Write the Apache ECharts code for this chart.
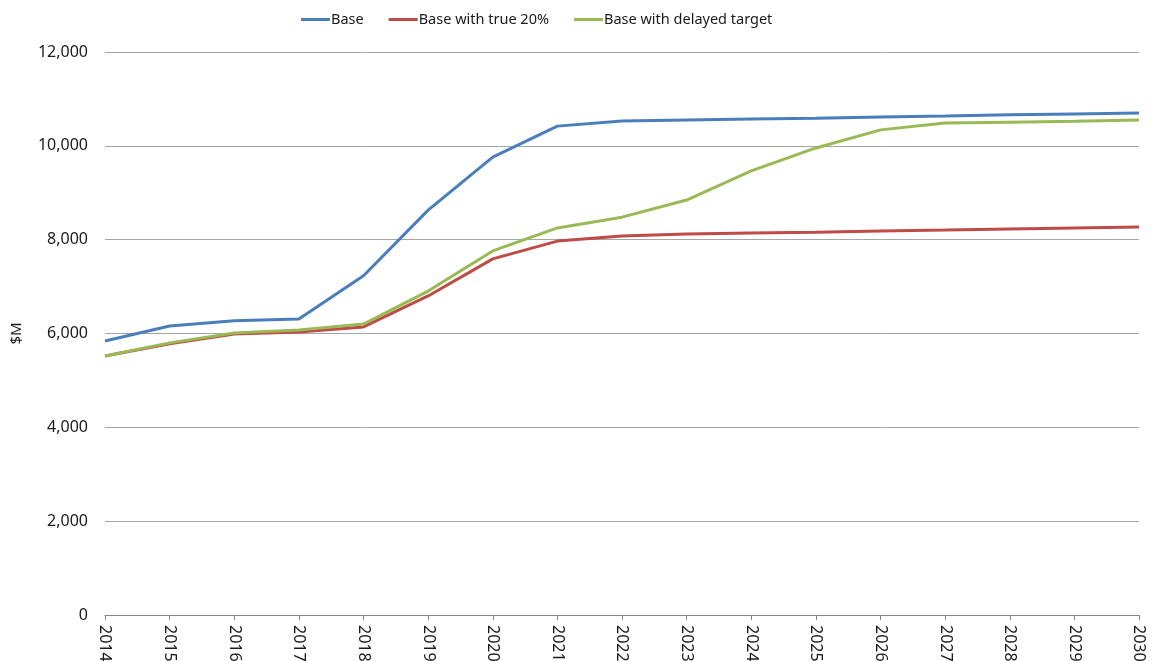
<!DOCTYPE html>
<html>
<head>
<meta charset="utf-8">
<script src="https://cdn.jsdelivr.net/npm/echarts@6/dist/echarts.min.js"></script>
<style>
  html, body { margin: 0; padding: 0; background: #fff; }
  #chart { width: 1165px; height: 661px; }
</style>
</head>
<body>
<div id="chart"></div>
<script>
// Years on the category axis
const years = ['2014','2015','2016','2017','2018','2019','2020','2021','2022','2023','2024','2025','2026','2027','2028','2029','2030'];

// Spending scenarios, $M
const base = [5840, 6160, 6270, 6310, 7230, 8630, 9760, 10420, 10530, 10550, 10570, 10590, 10615, 10635, 10660, 10680, 10700];
const baseTrue20 = [5520, 5780, 5990, 6030, 6140, 6800, 7590, 7970, 8080, 8120, 8140, 8160, 8185, 8205, 8230, 8250, 8270];
const baseDelayed = [5520, 5800, 6010, 6075, 6200, 6905, 7760, 8250, 8480, 8845, 9465, 9955, 10340, 10485, 10505, 10525, 10550];

const seriesNames = ['Base', 'Base with true 20%', 'Base with delayed target'];
const seriesColors = ['#4a7ebb', '#be4b48', '#98b954'];

const font = "'Noto Sans', 'DejaVu Sans', sans-serif";

const chart = echarts.init(document.getElementById('chart'), null, { renderer: 'canvas' });

function lineSeries(name, data, color) {
  return {
    name: name,
    type: 'line',
    data: data,
    symbol: 'none',
    lineStyle: { width: 3, color: color },
    itemStyle: { color: color },
    animation: false
  };
}

chart.setOption({
  backgroundColor: '#ffffff',
  textStyle: { fontFamily: font },
  legend: {
    top: 7,
    left: 296,
    itemWidth: 29,
    itemHeight: 3,
    itemGap: 25,
    icon: 'rect',
    textStyle: { fontSize: 14.5, color: '#1a1a1a', fontFamily: font, padding: [0, 0, 0, -4] },
    data: seriesNames
  },
  grid: { left: 105, right: 26, top: 52, bottom: 46, containLabel: false, outerBoundsMode: 'none' },
  xAxis: {
    type: 'category',
    data: years,
    boundaryGap: false,
    axisLine: { show: true, lineStyle: { color: '#868686', width: 1 } },
    axisTick: { show: true, alignWithLabel: true, length: 5, lineStyle: { color: '#868686' } },
    axisLabel: { rotate: -90, fontSize: 16, color: '#1a1a1a', margin: 10, fontFamily: font, interval: 0 },
    splitLine: { show: false }
  },
  yAxis: {
    type: 'value',
    min: 0,
    max: 12000,
    interval: 2000,
    name: '$M',
    nameLocation: 'middle',
    nameRotate: 90,
    nameGap: 81,
    nameTextStyle: { fontSize: 15, color: '#1a1a1a', fontFamily: font },
    axisLine: { show: false },
    axisTick: { show: false },
    axisLabel: {
      fontSize: 16, color: '#1a1a1a', margin: 17, fontFamily: font,
      formatter: v => v.toLocaleString('en-US')
    },
    splitLine: { show: true, lineStyle: { color: '#a6a6a6', width: 1 } }
  },
  series: [
    lineSeries(seriesNames[0], base, seriesColors[0]),
    lineSeries(seriesNames[1], baseTrue20, seriesColors[1]),
    lineSeries(seriesNames[2], baseDelayed, seriesColors[2])
  ]
});
</script>
</body>
</html>
